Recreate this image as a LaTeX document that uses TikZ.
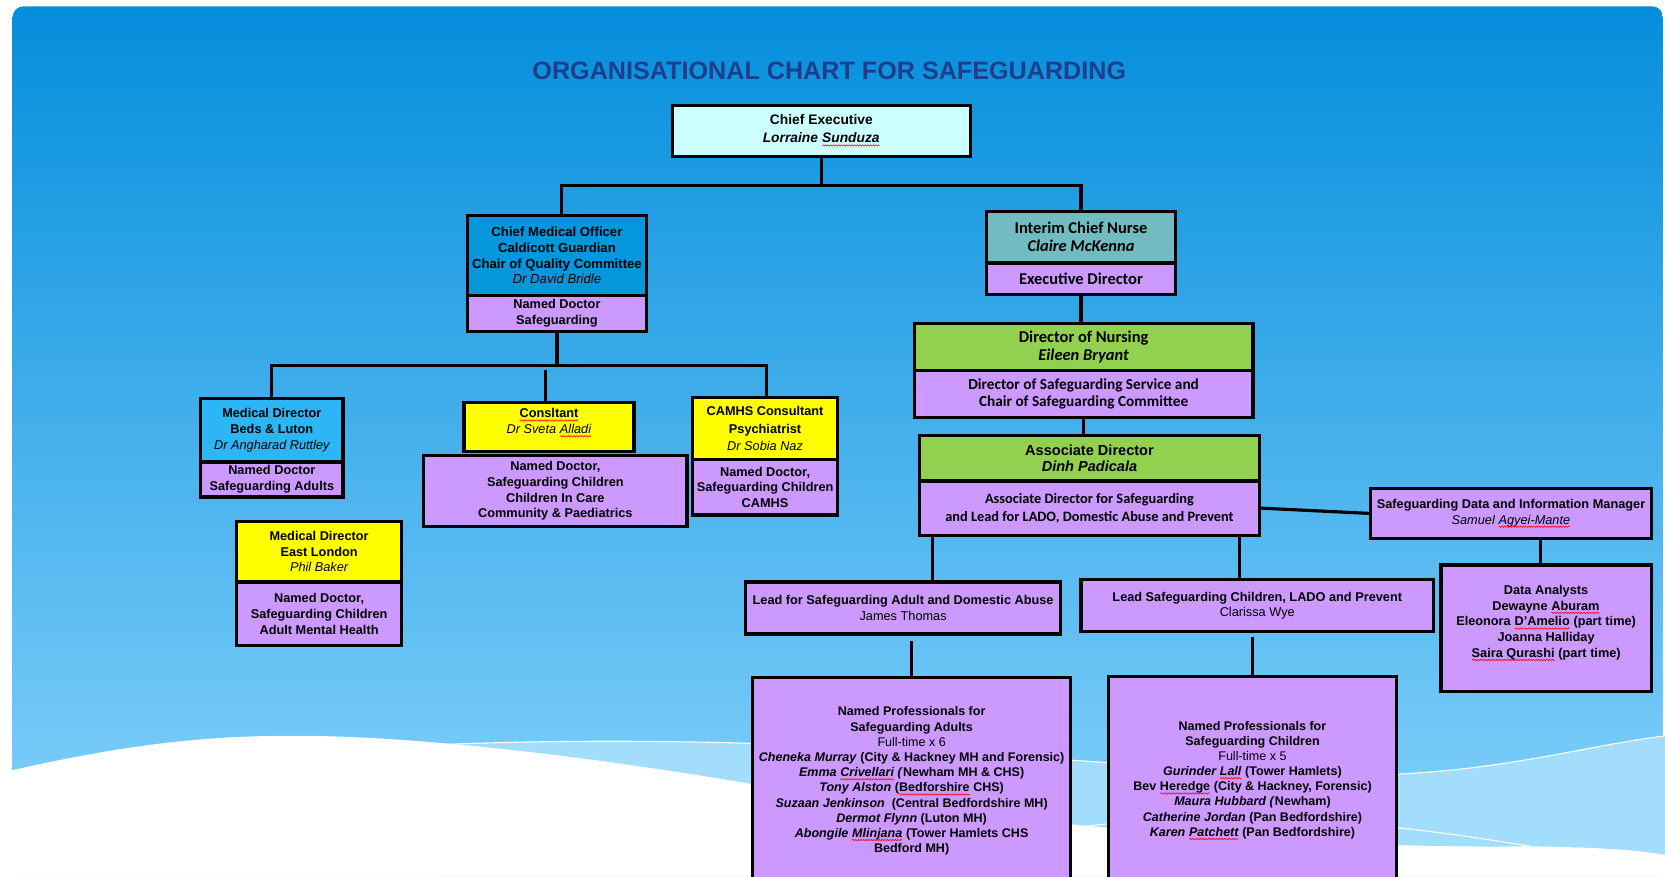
\documentclass[tikz,border=0pt]{standalone}
\usepackage{fontspec}
\setmainfont{Liberation Sans}
\newfontfamily\calibri{Carlito}
\usetikzlibrary{positioning, decorations.pathmorphing}

\definecolor{bgtop}{RGB}{4,142,220}
\definecolor{bgbot}{RGB}{135,211,252}
\definecolor{bandblue}{RGB}{162,221,251}
\definecolor{titleblue}{RGB}{30,62,140}
\definecolor{ceocyan}{RGB}{204,255,255}
\definecolor{cmoblue}{RGB}{5,150,220}
\definecolor{mdblue}{RGB}{45,182,245}
\definecolor{consyellow}{RGB}{255,255,0}
\definecolor{nurseteal}{RGB}{112,188,192}
\definecolor{dongreen}{RGB}{146,208,80}
\definecolor{rolepurple}{RGB}{204,153,255}

% red wavy spell-check underline
\newcommand\spell[1]{\tikz[baseline=(sw.base)]{%
  \node[inner sep=0pt, outer sep=0pt, draw=none, fill=none, minimum width=0pt,
    minimum height=0pt, font={}, align=left] (sw) {#1};
  \draw[red, line width=0.5pt, decorate,
    decoration={snake, amplitude=0.7pt, segment length=2.5pt}]
    ([yshift=-2.5pt]sw.base west) -- ([yshift=-2.5pt]sw.base east);}}

\tikzset{
  box/.style={draw=black, line width=3pt, align=center, inner sep=0pt,
    font=\fontsize{12}{14.8}\selectfont\bfseries},
  role/.style={box, fill=rolepurple},
  link/.style={line width=3pt},
  cal/.style={font=\calibri\fontsize{15.5}{17}\selectfont\bfseries}
}

\begin{document}
\begin{tikzpicture}[x=1pt, y=-1pt]
  \useasboundingbox (0,0) rectangle (1568,825);
  \clip (0,0) rectangle (1568,825);

  % slide background
  \fill[white] (0,0) rectangle (1568,825);
  \shade[top color=bgtop, bottom color=bgbot, rounded corners=10pt] (12,6) rectangle (1566,825);
  \fill[bandblue] (420,701) .. controls (700,690) and (950,712) .. (1180,728)
    .. controls (1380,740) and (1470,705) .. (1568,693) -- (1568,825) -- (420,825) -- cycle;
  \draw[white, line width=1pt] (420,701) .. controls (700,690) and (950,712) .. (1180,728)
    .. controls (1380,740) and (1470,705) .. (1568,693);
  \draw[white, line width=1pt] (950,790) .. controls (1100,760) and (1250,765) .. (1441,797);
  \fill[white] (0,728) .. controls (120,700) and (200,692) .. (288,693)
    .. controls (420,694) and (600,720) .. (706,738)
    .. controls (900,770) and (1200,800) .. (1441,797)
    .. controls (1500,798) and (1540,800) .. (1568,805) -- (1568,825) -- (0,825) -- cycle;

  \node[font=\fontsize{23.7}{26}\selectfont\bfseries, text=titleblue] (title) at (781,67)
    {ORGANISATIONAL CHART FOR SAFEGUARDING};

  % executive
  \node[box, fill=ceocyan, minimum width=281pt, minimum height=48pt,
    font=\fontsize{13}{17}\selectfont\bfseries] (ceo) at (773.5,123)
    {Chief Executive\\\textit{Lorraine \spell{Sunduza}}};

  % medical side
  \node[box, fill=cmoblue, minimum width=169pt, minimum height=75pt,
    font=\fontsize{12.4}{15}\selectfont\bfseries] (cmo) at (524.5,240.5)
    {Chief Medical Officer\\Caldicott Guardian\\Chair of Quality Committee\\\mdseries\itshape Dr David Bridle};
  \node[role, minimum width=169pt, minimum height=34pt] (cmorole) at (524.5,295)
    {Named Doctor\\Safeguarding};

  \node[box, fill=mdblue, minimum width=134pt, minimum height=60pt] (mdbl) at (256,405)
    {Medical Director\\Beds \& Luton\\\mdseries\itshape Dr Angharad Ruttley};
  \node[role, minimum width=134pt, minimum height=33pt] (mdblrole) at (256,451.5)
    {Named Doctor\\Safeguarding Adults};

  \node[box, fill=consyellow, minimum width=160pt, minimum height=46pt] (cons) at (517,402)
    {\spell{Consltant}\\\mdseries\itshape Dr Sveta \spell{Alladi}\\[-4pt]\mbox{}};
  \node[role, minimum width=248pt, minimum height=67pt] (consrole) at (523,462.5)
    {Named Doctor,\\Safeguarding Children\\Children In Care\\Community \& Paediatrics};

  \node[box, fill=consyellow, minimum width=137pt, minimum height=59pt,
    font=\fontsize{12}{16.5}\selectfont\bfseries] (camhs) at (720.5,403.5)
    {CAMHS Consultant\\Psychiatrist\\\mdseries\itshape Dr Sobia Naz};
  \node[role, minimum width=137pt, minimum height=52pt] (camhsrole) at (720.5,459)
    {Named Doctor,\\Safeguarding Children\\CAMHS};

  \node[box, fill=consyellow, minimum width=155pt, minimum height=57pt] (mdel) at (300.5,519.5)
    {Medical Director\\East London\\\mdseries\itshape Phil Baker};
  \node[role, minimum width=155pt, minimum height=60pt] (mdelrole) at (300.5,578)
    {Named Doctor,\\Safeguarding Children\\Adult Mental Health};

  % nursing side
  \node[box, cal, fill=nurseteal, minimum width=178pt, minimum height=48pt] (icn) at (1018,223)
    {Interim Chief Nurse\\\itshape Claire McKenna};
  \node[role, cal, minimum width=178pt, minimum height=29pt] (icnrole) at (1018,262.5)
    {Executive Director};

  \node[box, cal, fill=dongreen, minimum width=319pt, minimum height=44pt] (don) at (1020.5,327)
    {Director of Nursing\\\itshape Eileen Bryant};
  \node[role, minimum width=319pt, minimum height=44pt,
    font=\calibri\fontsize{14.4}{15.5}\selectfont\bfseries] (donrole) at (1020.5,371)
    {Director of Safeguarding Service and\\Chair of Safeguarding Committee};

  \node[box, fill=dongreen, minimum width=320pt, minimum height=43pt,
    font=\fontsize{13.7}{15.5}\selectfont\bfseries] (ad) at (1026,431.5)
    {Associate Director\\\itshape Dinh Padicala};
  \node[role, minimum width=320pt, minimum height=51pt,
    font=\calibri\fontsize{13.5}{17}\selectfont\bfseries] (adrole) at (1026,478.5)
    {Associate Director for Safeguarding\\and Lead for LADO, Domestic Abuse and Prevent};

  \node[role, minimum width=264pt, minimum height=47pt] (dim) at (1423,483.5)
    {Safeguarding Data and Information Manager\\\mdseries\itshape Samuel \spell{Agyei-Mante}};
  \node[role, minimum width=198pt, minimum height=119pt] (da) at (1456,591.5)
    {Data Analysts\\Dewayne \spell{Aburam}\\Eleonora \spell{D’Amelio} (part time)\\Joanna Halliday\\\spell{Saira Qurashi} (part time)\\[-2pt]\mbox{}};

  \node[role, minimum width=297pt, minimum height=49pt] (lsa) at (850.5,572.5)
    {Lead for Safeguarding Adult and Domestic Abuse\\\mdseries James Thomas};
  \node[role, minimum width=332pt, minimum height=49pt] (lsc) at (1184,570.5)
    {Lead Safeguarding Children, LADO and Prevent\\\mdseries Clarissa Wye};

  \node[role, minimum width=299pt, minimum height=195pt,
    font=\fontsize{11.8}{14.3}\selectfont\bfseries] (npa) at (858.5,735.5)
    {Named Professionals for\\Safeguarding Adults\\{\mdseries Full-time x 6}\\
     \textit{Cheneka Murray} (City \& Hackney MH and Forensic)\\
     \textit{Emma \spell{Crivellari} (}Newham MH \& CHS)\\
     \textit{Tony Alston} (\spell{Bedforshire} CHS)\\
     \textit{Suzaan Jenkinson}~ (Central Bedfordshire MH)\\
     \textit{Dermot Flynn} (Luton MH)\\
     \textit{Abongile \spell{Mlinjana}} (Tower Hamlets CHS\\Bedford MH)};
  \node[role, minimum width=271pt, minimum height=196pt,
    font=\fontsize{11.8}{14.3}\selectfont\bfseries] (npc) at (1179.5,735)
    {Named Professionals for\\Safeguarding Children\\{\mdseries Full-time x 5}\\
     \textit{Gurinder \spell{Lall}} (Tower Hamlets)\\
     Bev \spell{Heredge} (City \& Hackney, Forensic)\\
     \textit{Maura Hubbard (}Newham)\\
     \textit{Catherine Jordan} (Pan Bedfordshire)\\
     \textit{Karen \spell{Patchett}} (Pan Bedfordshire)};

  % reporting lines
  \draw[link] (ceo.south) -- ++(0,26) -| ([xshift=4.5pt]cmo.north);
  \draw[link] (ceo.south) -- ++(0,26) -| (icn.north);
  \draw[link] (cmorole.south) -- ++(0,31) -| (mdbl.north);
  \draw[link] (cmorole.south) -- ++(0,31) -| ([xshift=1.5pt]camhs.north);
  \draw[link] ([xshift=-3pt]cons.north) -- ++(0,-29);
  \draw[link] (icnrole.south) -- (icnrole.south |- don.north);
  \draw[link] (donrole.south) -- (donrole.south |- ad.north);
  \draw[link] (adrole.east) -- (dim.west);
  \draw[link] ([xshift=-5pt]da.north) coordinate (datop) -- (datop |- dim.south);
  \draw[link] ([xshift=14pt]adrole.south west) coordinate (lsatop) -- (lsatop |- lsa.north);
  \draw[link] ([xshift=-20pt]adrole.south east) coordinate (lsctop) -- (lsctop |- lsc.north);
  \draw[link, shorten >=5pt] (npa.north) -- (npa.north |- lsa.south);
  \draw[link, shorten >=3pt] (npc.north) -- (npc.north |- lsc.south);
\end{tikzpicture}
\end{document}
